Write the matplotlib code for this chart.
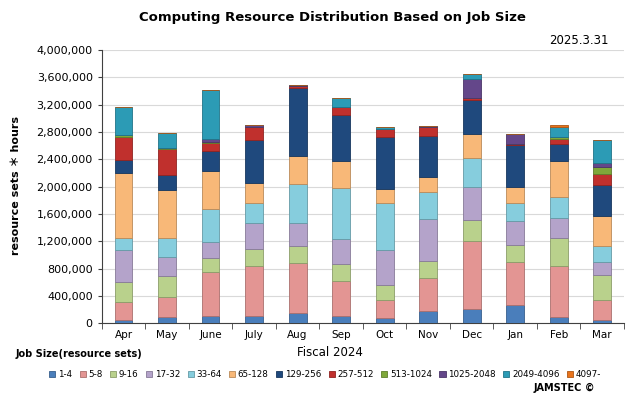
import matplotlib.pyplot as plt
import matplotlib.colors as mcolors
import numpy as np

months = ['Apr', 'May', 'June', 'July', 'Aug', 'Sep', 'Oct', 'Nov', 'Dec', 'Jan', 'Feb', 'Mar']
sizes = ['1-4', '5-8', '9-16', '17-32', '33-64', '65-128', '129-256', '257-512',
         '513-1024', '1025-2048', '2049-4096', '4097-']

# resource sets * hours, in thousands, one list per job size
s_1_4 = [39, 88, 98, 98, 146, 98, 73, 171, 205, 263, 83, 49]
s_5_8 = [273, 292, 653, 741, 732, 512, 259, 497, 1000, 635, 761, 292]
s_9_16 = [293, 313, 200, 254, 254, 253, 229, 249, 307, 248, 405, 366]
s_17_32 = [468, 283, 244, 380, 341, 371, 512, 610, 478, 356, 288, 186]
s_33_64 = [171, 268, 473, 293, 566, 751, 683, 395, 434, 254, 317, 244]
s_65_128 = [951, 707, 561, 283, 410, 391, 205, 224, 342, 234, 522, 439]
s_129_256 = [195, 215, 298, 634, 990, 673, 761, 600, 502, 620, 248, 448]
s_257_512 = [342, 380, 117, 185, 34, 122, 122, 122, 30, 20, 69, 156]
s_513_1024 = [19, 25, 10, 0, 0, 0, 0, 0, 0, 0, 39, 103]
s_1025_2048 = [5, 0, 39, 34, 15, 0, 0, 15, 282, 141, 0, 68]
s_2049_4096 = [410, 219, 722, 0, 0, 122, 29, 0, 64, 0, 146, 332]
s_4097 = [0, 0, 0, 0, 0, 0, 0, 0, 0, 0, 29, 0]

series = [s_1_4, s_5_8, s_9_16, s_17_32, s_33_64, s_65_128, s_129_256,
          s_257_512, s_513_1024, s_1025_2048, s_2049_4096, s_4097]
colors = ['#4A7EBB', '#E39593', '#B9D18C', '#B4A3CA', '#86CDDD', '#F8B878',
          '#1F497D', '#C0302D', '#7FA83A', '#64478A', '#2C9BB5', '#E8731B']

fig = plt.figure(figsize=(6.4, 3.95), dpi=100)
ax = fig.add_axes([0.159, 0.182, 0.816, 0.691])

x = np.arange(len(months))
bottom = np.zeros(len(months))
for name, vals, c in zip(sizes, series, colors):
    v = np.array(vals) * 1000.0
    edge = np.array(mcolors.to_rgb(c)) * 0.75
    ax.bar(x, v, width=0.41, bottom=bottom, color=c, edgecolor=edge,
           linewidth=0.6, label=name, zorder=3)
    bottom += v

ax.set_xlim(-0.5, len(months) - 0.5)
ax.set_ylim(0, 4000000)
ax.set_yticks(np.arange(0, 4000001, 400000))
ax.set_yticklabels([f'{int(t):,}' for t in np.arange(0, 4000001, 400000)], fontsize=8)
ax.set_xticks(x)
ax.set_xticklabels(months, fontsize=7.5)
ax.tick_params(axis='x', length=0, pad=5)
ax.set_xticks(np.arange(-0.5, len(months)), minor=True)
ax.tick_params(axis='x', which='minor', length=4, color='#404040')
ax.tick_params(axis='y', length=3, color='#404040')
ax.grid(axis='y', color='#D9D9D9', linewidth=0.8, zorder=0)
for s in ['top', 'right']:
    ax.spines[s].set_visible(False)
ax.spines['left'].set_color('#404040')
ax.spines['bottom'].set_color('#404040')

fig.text(0.52, 0.955, 'Computing Resource Distribution Based on Job Size',
         ha='center', va='center', fontsize=9.5, fontweight='bold')
fig.text(0.905, 0.898, '2025.3.31', ha='center', va='center', fontsize=8.5)
fig.text(0.025, 0.53, 'resource sets ＊ hours', rotation=90, ha='center', va='center',
         fontsize=8, fontweight='bold', family=['DejaVu Sans', 'Noto Sans CJK JP'])
fig.text(0.515, 0.108, 'Fiscal 2024', ha='center', va='center', fontsize=8.5)
fig.text(0.025, 0.105, 'Job Size(resource sets)', ha='left', va='center',
         fontsize=7, fontweight='bold')
fig.text(0.93, 0.018, 'JAMSTEC ©', ha='right', va='center', fontsize=7, fontweight='bold')

fig.legend(loc='center', bbox_to_anchor=(0.508, 0.052), ncol=12, fontsize=6.3,
           frameon=False, handlelength=0.7, handleheight=0.7, handletextpad=0.3,
           columnspacing=0.85, borderaxespad=0)

fig.savefig('out.png', dpi=100)
